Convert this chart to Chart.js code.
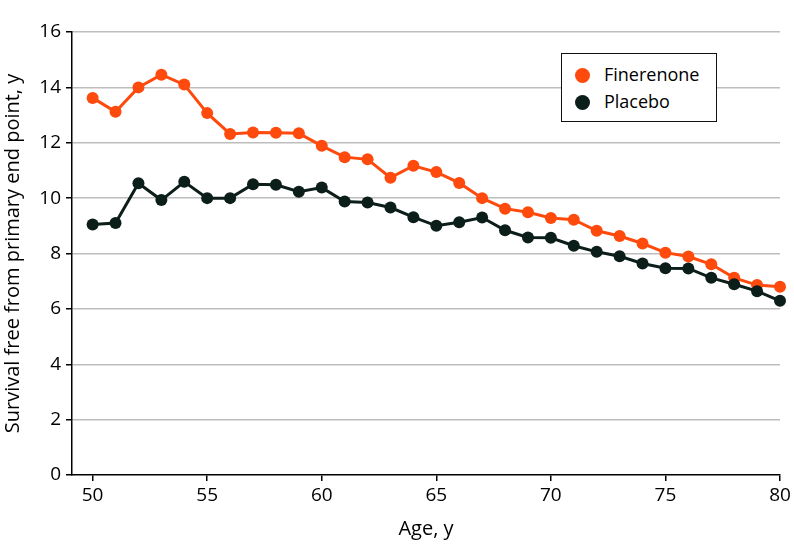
<!DOCTYPE html>
<html>
<head>
<meta charset="utf-8">
<script src="https://cdn.jsdelivr.net/npm/chart.js@4.4.1/dist/chart.umd.min.js"></script>
<style>
    body { margin: 0; background: #fff; }
    #wrap { position: relative; width: 794px; height: 559px; }
    #legend {
        position: absolute; left: 561px; top: 53px; width: 154px; height: 67px;
        border: 1.5px solid #111; background: #fff;
        font-family: "Open Sans", sans-serif; font-size: 18px; color: #000;
    }
    .item { position: absolute; left: 13px; height: 20px; line-height: 20px; white-space: nowrap; }
    .dot { display: inline-block; width: 15px; height: 15px; border-radius: 50%; vertical-align: -2px; margin-right: 14px; }
</style>
</head>
<body>
<div id="wrap">
    <canvas id="chart"></canvas>
    <div id="legend"></div>
</div>
<script>
// Idade (anos)
const ages = [50, 51, 52, 53, 54, 55, 56, 57, 58, 59, 60, 61, 62, 63, 64, 65,
    66, 67, 68, 69, 70, 71, 72, 73, 74, 75, 76, 77, 78, 79, 80];

// Sobrevida livre do desfecho primário (anos)
const finerenone = [13.62, 13.12, 14.0, 14.46, 14.1, 13.07, 12.32, 12.37, 12.36, 12.34, 11.89,
    11.48, 11.4, 10.74, 11.17, 10.94, 10.55, 10.0, 9.62, 9.49, 9.28, 9.22, 8.82, 8.63,
    8.36, 8.03, 7.89, 7.61, 7.12, 6.86, 6.8];
const placebo = [9.05, 9.1, 10.54, 9.93, 10.59, 10.0, 10.0, 10.5, 10.48, 10.23, 10.38,
    9.88, 9.84, 9.66, 9.31, 9.0, 9.13, 9.3, 8.84, 8.58, 8.57, 8.28, 8.06, 7.9,
    7.64, 7.47, 7.46, 7.12, 6.89, 6.64, 6.29];

const xTicks = [50, 55, 60, 65, 70, 75, 80];
const yTicks = [0, 2, 4, 6, 8, 10, 12, 14, 16];

const COLORS = { finerenone: '#fe4a0c', placebo: '#0c1e1a' };
const FONT = '"Open Sans", sans-serif';

const toPoints = (values) => values.map((v, i) => ({ x: ages[i], y: v }));

const series = [
    { label: 'Finerenone', data: finerenone, color: COLORS.finerenone },
    { label: 'Placebo', data: placebo, color: COLORS.placebo }
];

const ctx = document.getElementById('chart');
new Chart(ctx, {
    type: 'line',
    data: {
        datasets: series.map(s => ({
            label: s.label,
            data: toPoints(s.data),
            borderColor: s.color,
            backgroundColor: s.color,
            borderWidth: 3,
            pointRadius: 6,
            pointBorderWidth: 0,
            pointHoverRadius: 6,
            tension: 0,
            clip: false
        })).reverse()
    },
    options: {
        responsive: true,
        maintainAspectRatio: false,
        animation: false,
        layout: { padding: { left: 0, right: 14, top: 32, bottom: 0 } },
        plugins: {
            legend: { display: false },
            tooltip: { enabled: false }
        },
        scales: {
            x: {
                type: 'linear',
                min: 49.1,
                max: 80,
                afterBuildTicks: (scale) => { scale.ticks = xTicks.map(v => ({ value: v })); },
                afterFit: (scale) => { scale.height = 84; },
                border: { color: '#000', width: 1.5 },
                grid: { drawOnChartArea: false, drawTicks: true, tickLength: 6, tickColor: '#000', lineWidth: 1.5 },
                ticks: { color: '#000', font: { family: FONT, size: 19 }, padding: 3 },
                title: {
                    display: true,
                    text: 'Age, y',
                    color: '#000',
                    font: { family: FONT, size: 20 },
                    padding: { top: 0, bottom: 18 }
                }
            },
            y: {
                min: 0,
                max: 16,
                afterBuildTicks: (scale) => { scale.ticks = yTicks.map(v => ({ value: v })); },
                afterFit: (scale) => { scale.width = 72; },
                border: { color: '#000', width: 1.5 },
                grid: {
                    color: (c) => c.tick && c.tick.value === 0 ? 'rgba(0,0,0,0)' : '#bdbdbd',
                    lineWidth: 1.5,
                    drawTicks: true,
                    tickLength: 6,
                    tickColor: '#000'
                },
                ticks: { color: '#000', font: { family: FONT, size: 19 }, padding: 5 },
                title: {
                    display: true,
                    text: 'Survival free from primary end point, y',
                    color: '#000',
                    font: { family: FONT, size: 20 },
                    padding: { top: 1, bottom: 0 }
                }
            }
        }
    }
});

// Legenda em HTML (caixa com borda)
const legend = document.getElementById('legend');
series.forEach((s, i) => {
    const item = document.createElement('div');
    item.className = 'item';
    item.style.top = (10 + i * 27) + 'px';
    item.innerHTML = `<span class="dot" style="background:${s.color}"></span>${s.label}`;
    legend.appendChild(item);
});
</script>
</body>
</html>
